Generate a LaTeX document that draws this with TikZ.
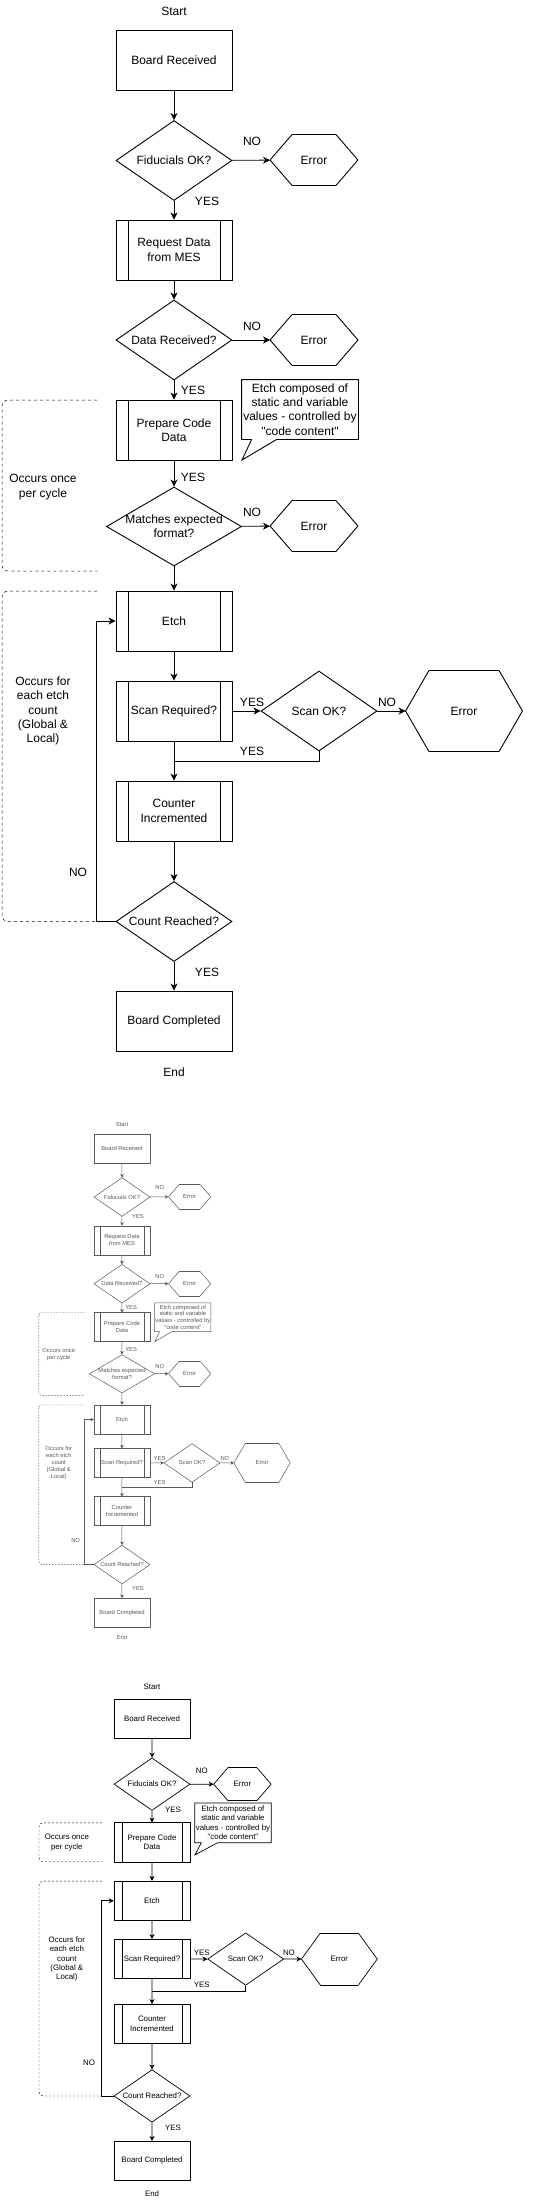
\documentclass[tikz,border=0pt]{standalone}
\usepackage{fontspec}
\setmainfont{Liberation Sans}
\usetikzlibrary{shapes.geometric, arrows.meta, calc}

\tikzset{
  box/.style={draw, rectangle, minimum width=116pt, minimum height=60pt, inner sep=0pt, align=center},
  subbox/.style={box, path picture={
      \draw ($(path picture bounding box.north west)!0.1034!(path picture bounding box.north east)$)
        -- ($(path picture bounding box.south west)!0.1034!(path picture bounding box.south east)$);
      \draw ($(path picture bounding box.north east)!0.1034!(path picture bounding box.north west)$)
        -- ($(path picture bounding box.south east)!0.1034!(path picture bounding box.south west)$);}},
  decision/.style={draw, diamond, aspect=1.45, inner sep=-4pt, minimum width=116pt, minimum height=80pt, align=center},
  errhex/.style={minimum width=87pt, minimum height=50pt, inner sep=0pt,
    append after command={
      (\tikzlastnode.west) edge ($(\tikzlastnode.north west)!#1!(\tikzlastnode.north east)$)
      ($(\tikzlastnode.north west)!#1!(\tikzlastnode.north east)$) edge ($(\tikzlastnode.north east)!#1!(\tikzlastnode.north west)$)
      ($(\tikzlastnode.north east)!#1!(\tikzlastnode.north west)$) edge (\tikzlastnode.east)
      (\tikzlastnode.east) edge ($(\tikzlastnode.south east)!#1!(\tikzlastnode.south west)$)
      ($(\tikzlastnode.south east)!#1!(\tikzlastnode.south west)$) edge ($(\tikzlastnode.south west)!#1!(\tikzlastnode.south east)$)
      ($(\tikzlastnode.south west)!#1!(\tikzlastnode.south east)$) edge (\tikzlastnode.west)}},
  errhex/.default=0.25,
  notebox/.style={rectangle, minimum width=116pt, minimum height=59pt, inner sep=0pt, align=center},
  lbl/.style={inner sep=0pt, align=center},
  arr/.style={-{Stealth[length=7pt, width=7pt, inset=2pt]}},
  grpline/.style={dash pattern=on 3pt off 3pt, rounded corners=6pt, line width=0.5pt}
}

% outline of the note with its tail
\newcommand{\noteoutline}{%
  \draw (note.south west) -- (note.north west) -- (note.north east) -- (note.south east)
    -- ($(note.south west)!0.3!(note.south east)$) -- (notetip)
    -- ($(note.south west)!0.086!(note.south east)$) -- cycle;
}

% the full flow, drawn once at full size and once shrunk
\newcommand{\fullchart}{%
  \node[lbl] (start) at (174,11) {Start};
  \node[box] (br) at (174,60) {Board Received};
  \node[decision] (fid) at (174,160.5) {Fiducials OK?};
  \node[errhex] (e1) at (314,160) {Error};
  \node[subbox] (req) at (174,250) {Request Data\\from MES};
  \node[decision] (drc) at (174,340) {Data Received?};
  \node[errhex] (e2) at (314,340) {Error};
  \node[notebox] (note) at (300,409.5)
    {Etch composed of\\static and variable\\values - controlled by\\\textquotedbl code content\textquotedbl};
  \coordinate (notetip) at (242,460);
  \noteoutline
  \node[subbox] (prep) at (174,430) {Prepare Code\\Data};
  \node[decision, minimum width=135pt, minimum height=79pt] (fmt) at (174,526.5) {Matches expected\\format?};
  \node[errhex] (e3) at (314,526) {Error};
  \node[subbox] (etch) at (174,621) {Etch};
  \node[subbox] (scan) at (174,711) {Scan Required?};
  \node[decision] (sok) at (319,711) {Scan OK?};
  \node[errhex=0.2, minimum width=116pt, minimum height=80pt] (e4) at (464,711) {Error};
  \node[subbox] (cnt) at (174,811) {Counter\\Incremented};
  \node[decision] (crd) at (174,921.5) {Count Reached?};
  \node[box] (done) at (174,1021) {Board Completed};
  \node[lbl] (stop) at (174,1072) {End};
  \coordinate (sjoin) at (174,761);
  % labels
  \node[lbl] (no1) at (252,141) {NO};
  \node[lbl] (yes1) at (207,201) {YES};
  \node[lbl] (no2) at (252,326) {NO};
  \node[lbl] (yes2) at (193,390) {YES};
  \node[lbl] (yes3) at (193,477) {YES};
  \node[lbl] (no3) at (252,512) {NO};
  \node[lbl] (yes4) at (252,702) {YES};
  \node[lbl] (no4) at (387,702) {NO};
  \node[lbl] (yes5) at (252,751) {YES};
  \node[lbl] (no5) at (78,872) {NO};
  \node[lbl] (yes6) at (207,972) {YES};
  \node[lbl] (once) at (43,487) {Occurs once\\per cycle};
  \node[lbl] (each) at (43,711) {Occurs for\\each etch\\count\\(Global \&\\Local)};
  % connectors
  \draw[arr] (br) -- (fid);
  \draw[arr] (fid) -- (e1);
  \draw[arr] (fid) -- (req);
  \draw[arr] (req) -- (drc);
  \draw[arr] (drc) -- (e2);
  \draw[arr] (drc) -- (prep);
  \draw[arr] (prep) -- (fmt);
  \draw[arr] (fmt) -- (e3);
  \draw[arr] (fmt) -- (etch);
  \draw[arr] (etch) -- (scan);
  \draw[arr] (scan) -- (sok);
  \draw[arr] (sok) -- (e4);
  \draw (sok.south) |- (sjoin);
  \draw[arr] (scan) -- (cnt);
  \draw[arr] (cnt) -- (crd);
  \draw[arr] (crd.west) -- ++(-19,0) |- (etch.west);
  \draw[arr] (crd) -- (done);
  % dashed groups
  \draw[grpline] (97,400) -- (2,400) -- (2,571) -- (97,571);
  \draw[grpline] (97,591) -- (2,591) -- (2,921.5) -- (97,921.5);
}

\begin{document}
\begin{tikzpicture}[x=1pt, y=-1pt, line width=0.9pt, font=\fontsize{12}{14.3}\selectfont]
\useasboundingbox[fill=white] (0,0) rectangle (541,2201);

\fullchart

% shrunk copy
\begin{scope}[shift={(37.96,1119.5)}, scale=0.483, transform shape, color=black!65, line width=0.5pt,
    arr/.style={-{Stealth[length=3.5pt, width=3.5pt, inset=1pt]}},
    grpline/.style={dash pattern=on 1.5pt off 1.5pt, rounded corners=3pt, line width=0.4pt}]
  \fullchart
\end{scope}

% short flow
\begin{scope}[shift={(38.03,1679.35)}, scale=0.655, transform shape, line width=0.7pt,
    arr/.style={-{Stealth[length=5pt, width=5pt, inset=1.5pt]}},
    grpline/.style={dash pattern=on 2pt off 2pt, rounded corners=4pt, line width=0.4pt}]
  \node[lbl] (start) at (174,11.7) {Start};
  \node[box] (br) at (174,60.5) {Board Received};
  \node[decision] (fid) at (174,160) {Fiducials OK?};
  \node[errhex] (e1) at (312,160) {Error};
  \node[notebox, minimum height=60pt] (note) at (297.6,219)
    {Etch composed of\\static and variable\\values - controlled by\\\textquotedbl code content\textquotedbl};
  \coordinate (notetip) at (239.6,268);
  \noteoutline
  \node[subbox] (prep) at (174,249) {Prepare Code\\Data};
  \node[subbox] (etch) at (174,338) {Etch};
  \node[subbox] (scan) at (174,427) {Scan Required?};
  \node[decision] (sok) at (317,427) {Scan OK?};
  \node[errhex=0.25, minimum width=115pt, minimum height=79pt] (e4) at (460,427) {Error};
  \node[subbox] (cnt) at (174,526) {Counter\\Incremented};
  \node[decision] (crd) at (174,636) {Count Reached?};
  \node[box] (done) at (174,735) {Board Completed};
  \node[lbl] (stop) at (174,785) {End};
  \coordinate (sjoin) at (174,477);
  % labels
  \node[lbl] (no1) at (250,140) {NO};
  \node[lbl] (yes1) at (206,199.5) {YES};
  \node[lbl] (yes4) at (250,418) {YES};
  \node[lbl] (no4) at (383,418) {NO};
  \node[lbl] (yes5) at (250,467) {YES};
  \node[lbl] (no5) at (78,585) {NO};
  \node[lbl] (yes6) at (206,685) {YES};
  \node[lbl] (once) at (44,249) {Occurs once\\per cycle};
  \node[lbl] (each) at (44,427) {Occurs for\\each etch\\count\\(Global \&\\Local)};
  % connectors
  \draw[arr] (br) -- (fid);
  \draw[arr] (fid) -- (e1);
  \draw[arr] (fid) -- (prep);
  \draw[arr] (prep) -- (etch);
  \draw[arr] (etch) -- (scan);
  \draw[arr] (scan) -- (sok);
  \draw[arr] (sok) -- (e4);
  \draw (sok.south) |- (sjoin);
  \draw[arr] (scan) -- (cnt);
  \draw[arr] (cnt) -- (crd);
  \draw[arr] (crd.west) -- ++(-19,0) |- (etch.west);
  \draw[arr] (crd) -- (done);
  % dashed groups
  \draw[grpline] (97.7,219) -- (1.5,219) -- (1.5,278.5) -- (97.7,278.5);
  \draw[grpline] (97.7,308) -- (1.5,308) -- (1.5,636) -- (97.7,636);
\end{scope}
\end{tikzpicture}
\end{document}
